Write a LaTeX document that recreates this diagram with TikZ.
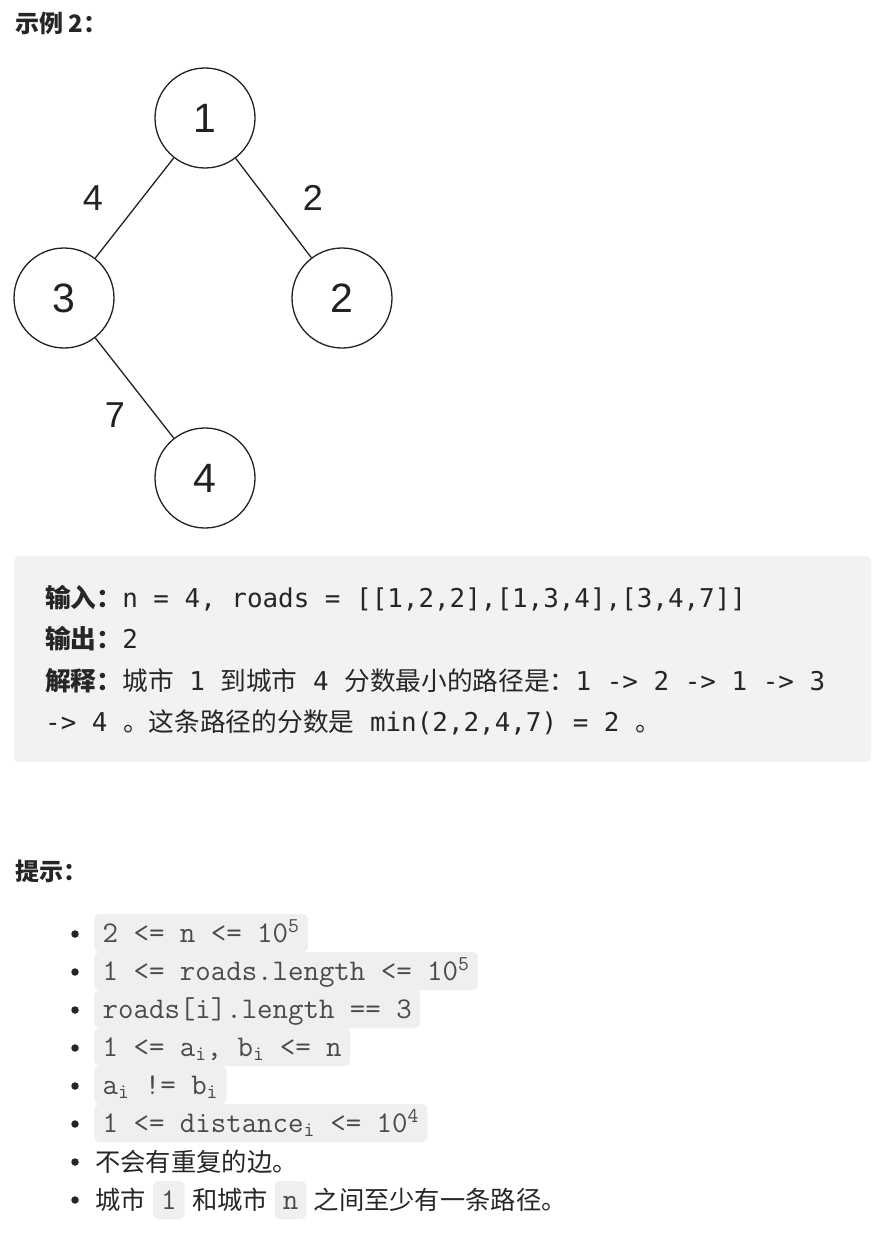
\documentclass[tikz,border=0pt]{standalone}
\usepackage{fontspec}
\setmainfont{Liberation Sans}
\newfontfamily\cjk{Noto Sans CJK SC}
\newfontfamily\dmono{DejaVu Sans Mono}
\definecolor{txt}{HTML}{262626}
\definecolor{boxbg}{HTML}{F2F2F4}
\definecolor{chipbg}{HTML}{EFEFF2}
\definecolor{codefg}{HTML}{4A4A4A}
\definecolor{ink}{HTML}{222222}
\newcommand\sz[1]{\fontsize{#1}{#1}\selectfont}
\newcommand\mm[1]{{\dmono\sz{25.9}#1}}
\newcommand\cc[1]{{\cjk\sz{25.7}#1}}
\newcommand\cb[1]{{\cjk\bfseries\sz{25.7}#1}}
\begin{document}
\begin{tikzpicture}[x=1pt,y=-1pt,
  vertex/.style={circle,draw=ink,line width=1.3pt,minimum size=100pt,inner sep=0pt,font=\sz{41},text=ink},
  road/.style={draw=ink,line width=1.3pt},
  wlabel/.style={inner sep=0pt,font=\sz{36},text=ink},
  heading/.style={inner sep=0pt,anchor=base west,font=\cjk\bfseries\sz{24},text=txt},
  boxline/.style={inner sep=0pt,anchor=base west,text=txt},
  chip/.style={fill=chipbg,rounded corners=5pt,inner xsep=8.5pt,inner ysep=3pt,text height=25pt,text depth=7pt,anchor=base west,font=\ttfamily\sz{30},text=codefg},
  hint/.style={inner sep=0pt,anchor=base west,font=\cjk\sz{25.3},text=txt},
  dot/.style={circle,fill=txt,inner sep=0pt,minimum size=7.5pt}]
\useasboundingbox (0,0) rectangle (888,1236);
\fill[white] (0,0) rectangle (888,1236);

% title
\node[heading] (t1) at (15,33) {示例 2：};

% graph
\node[vertex] (v1) at (205,118) {1};
\node[vertex] (v3) at (64,298) {3};
\node[vertex] (v2) at (342,298) {2};
\node[vertex] (v4) at (205,478) {4};
\draw[road] (v1) -- (v3);
\draw[road] (v1) -- (v2);
\draw[road] (v3) -- (v4);
\node[wlabel] (w13) at (93,198) {4};
\node[wlabel] (w12) at (313,198) {2};
\node[wlabel] (w34) at (115,415) {7};

% example box
\fill[boxbg,rounded corners=6pt] (14,556) rectangle (871,762);
\node[boxline] (l1) at (45,607) {\cb{输入：}\mm{n = 4, roads = [[1,2,2],[1,3,4],[3,4,7]]}};
\node[boxline] (l2) at (45,648) {\cb{输出：}\mm{2}};
\node[boxline] (l3) at (45,690) {\cb{解释：}\cc{城市}\mm{\ 1\ }\cc{到城市}\mm{\ 4\ }\cc{分数最小的路径是：}\mm{1 -> 2 -> 1 -> 3}};
\node[boxline] (l4) at (45,731) {\mm{-> 4\ }\cc{。这条路径的分数是}\mm{\ min(2,2,4,7) = 2\ }\cc{。}};

% hints
\node[heading] (t2) at (15,880) {提示：};

\node[dot] (b1) at (75,934) {};
\node[dot] (b2) at (75,972) {};
\node[dot] (b3) at (75,1010) {};
\node[dot] (b4) at (75,1048) {};
\node[dot] (b5) at (75,1086) {};
\node[dot] (b6) at (75,1124) {};
\node[dot] (b7) at (75,1162) {};
\node[dot] (b8) at (75,1200) {};

\node[chip] (c1) at (94,942) {2 <= n <= 10\textsuperscript{5}};
\node[chip] (c2) at (94,980) {1 <= roads.length <= 10\textsuperscript{5}};
\node[chip] (c3) at (94,1018) {roads[i].length == 3};
\node[chip] (c4) at (94,1056) {1 <= a\textsubscript{i}, b\textsubscript{i} <= n};
\node[chip] (c5) at (94,1094) {a\textsubscript{i} != b\textsubscript{i}};
\node[chip] (c6) at (94,1132) {1 <= distance\textsubscript{i} <= 10\textsuperscript{4}};

\node[hint] (h7) at (95,1171) {不会有重复的边。};

\node[hint] (h8a) at (95,1209) {城市};
\node[chip,inner xsep=8pt] (h8b) at ([xshift=7pt]h8a.base east) {1};
\node[hint] (h8c) at ([xshift=7pt]h8b.base east) {和城市};
\node[chip,inner xsep=8pt] (h8d) at ([xshift=6.5pt]h8c.base east) {n};
\node[hint] (h8e) at ([xshift=7pt]h8d.base east) {之间至少有一条路径。};
\end{tikzpicture}
\end{document}
